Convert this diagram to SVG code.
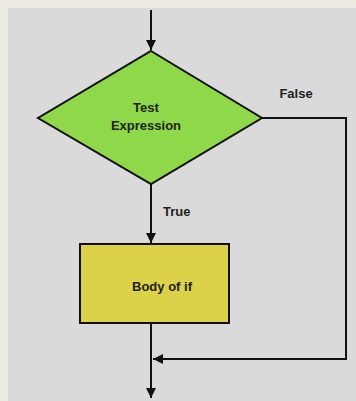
<svg xmlns="http://www.w3.org/2000/svg" width="356" height="401" viewBox="0 0 356 401">
<defs>
<style>
.ln{stroke:#111;stroke-width:2;fill:none}
.lbl{font-family:"Liberation Sans",Arial,sans-serif;font-weight:bold;font-size:13px;fill:#222}
</style>
<marker id="ah" viewBox="0 0 10 10" refX="10" refY="5" markerWidth="10" markerHeight="10" markerUnits="userSpaceOnUse" orient="auto">
<path d="M0,0 L10,5 L0,10 Z" fill="#111"/>
</marker>
</defs>
<rect x="0" y="0" width="356" height="401" fill="#eeebe3"/>
<rect x="8" y="8" width="348" height="393" fill="#dadada"/>
<g id="connectors">
<line class="ln" x1="151" y1="10" x2="151" y2="50" marker-end="url(#ah)"/>
<line class="ln" x1="151" y1="183" x2="151" y2="243" marker-end="url(#ah)"/>
<polyline class="ln" points="262,118 346,118 346,359 153,359" marker-end="url(#ah)"/>
<line class="ln" x1="151" y1="323" x2="151" y2="398" marker-end="url(#ah)"/>
<text class="lbl" x="296" y="98" text-anchor="middle">False</text>
<text class="lbl" x="163" y="216">True</text>
</g>
<g id="test">
<polygon points="151,51 262,118 151,184 38,118" fill="#8fd84a" stroke="#111" stroke-width="2"/>
<text class="lbl" x="146" y="112" text-anchor="middle">Test</text>
<text class="lbl" x="146" y="130" text-anchor="middle">Expression</text>
</g>
<g id="body">
<rect x="80" y="244" width="149" height="79" fill="#dcd24a" stroke="#111" stroke-width="2"/>
<text class="lbl" x="162" y="291" text-anchor="middle">Body of if</text>
</g>
</svg>
